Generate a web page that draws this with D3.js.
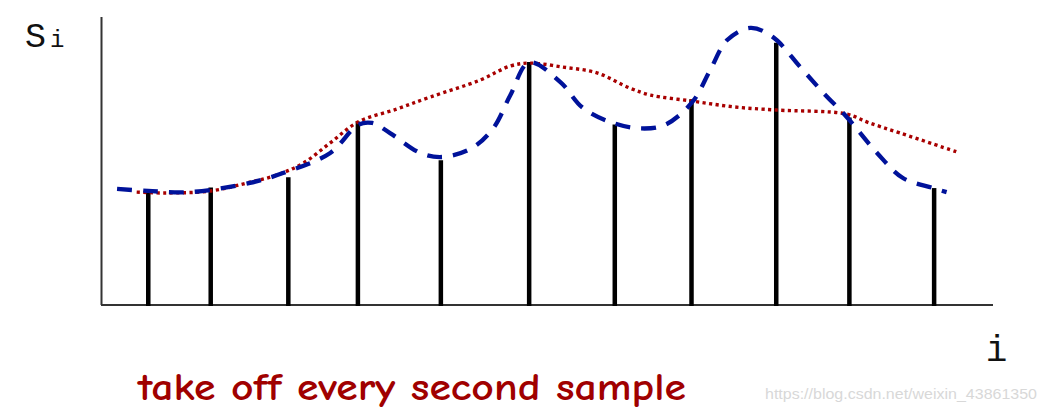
<!DOCTYPE html>
<html>
<head>
<meta charset="utf-8">
<script src="https://cdn.jsdelivr.net/npm/d3@7"></script>
<style>
  html, body { margin: 0; padding: 0; background: #fff; }
  svg { display: block; }
</style>
</head>
<body>
<script>
// ---- data (arbitrary units: position 0..100, amplitude 0..100) ----
const sampleX = [5.3, 12.3, 21.0, 28.8, 38.1, 48.0, 57.6, 66.2, 75.7, 83.9, 93.4];
const sampleY = [39.9, 40.8, 44.4, 63.7, 50.3, 84.4, 62.7, 71.4, 91.1, 65.1, 40.6];

const originalX = [1.8, 5.3, 10.0, 16.7, 20.4, 25.7, 28.8, 30.4, 32.4, 35.8, 38.3, 41.6, 44.0, 45.9, 48.0,
                   51.5, 54.0, 57.4, 60.6, 63.2, 66.3, 68.3, 70.2, 72.8, 75.3, 78.4, 81.0, 83.6, 87.0, 89.9, 93.3, 94.8];
const originalY = [40.3, 39.6, 39.2, 42.4, 45.8, 52.8, 62.5, 63.2, 59.7, 52.8, 51.4, 54.5, 61.5, 72.9, 84.2,
                   77.4, 68.5, 63.2, 61.3, 62.5, 70.5, 81.6, 92.0, 96.2, 93.1, 82.6, 73.6, 65.3, 52.8, 44.1, 40.6, 39.2];

const reducedX = [4.0, 7.2, 12.3, 16.4, 19.7, 22.7, 25.7, 28.8, 33.2, 36.9, 42.5, 45.9, 48.1, 51.8,
                  55.6, 59.3, 61.6, 66.3, 70.9, 75.7, 83.6, 85.9, 89.6, 96.0];
const reducedY = [39.2, 38.9, 39.6, 42.4, 45.1, 49.3, 56.3, 63.5, 68.1, 72.2, 78.1, 83.0, 84.0, 82.6,
                  80.6, 75.3, 72.9, 70.8, 68.8, 67.7, 66.3, 63.5, 59.7, 53.1];

const yLabel = "S";
const ySub = "i";
const xLabel = "i";
const caption = "take off every second sample";
const watermark = "https://blog.csdn.net/weixin_43861350";

// ---- layout ----
const W = 1046, H = 413;
const svg = d3.select("body").append("svg").attr("width", W).attr("height", H);

const x = d3.scaleLinear().domain([0, 100]).range([101, 993]);
const y = d3.scaleLinear().domain([0, 100]).range([305, 17]);

// axes
svg.append("line")
  .attr("x1", x(0) + 0.5).attr("x2", x(0) + 0.5)
  .attr("y1", y(0)).attr("y2", y(100))
  .attr("stroke", "#333").attr("stroke-width", 2);
svg.append("line")
  .attr("x1", x(0)).attr("x2", x(100))
  .attr("y1", y(0)).attr("y2", y(0))
  .attr("stroke", "#333").attr("stroke-width", 2);

// stems
svg.append("g").selectAll("line")
  .data(sampleX.map((v, i) => ({ x: v, y: sampleY[i] })))
  .join("line")
  .attr("x1", d => x(d.x)).attr("x2", d => x(d.x))
  .attr("y1", y(0) + 1).attr("y2", d => y(d.y))
  .attr("stroke", "#000").attr("stroke-width", 4.5);

// curves
const line = d3.line().x(d => x(d[0])).y(d => y(d[1])).curve(d3.curveCatmullRom.alpha(0.5));

svg.append("path")
  .datum(reducedX.map((v, i) => [v, reducedY[i]]))
  .attr("d", line)
  .attr("fill", "none")
  .attr("stroke", "#a80000")
  .attr("stroke-width", 3.4)
  .attr("stroke-dasharray", "3.2,3.4");

svg.append("path")
  .datum(originalX.map((v, i) => [v, originalY[i]]))
  .attr("d", line)
  .attr("fill", "none")
  .attr("stroke", "#00129a")
  .attr("stroke-width", 4.3)
  .attr("stroke-dasharray", "15,11");

// labels
svg.append("text")
  .attr("x", 25).attr("y", 46.5)
  .attr("font-family", "Liberation Mono, monospace")
  .attr("font-size", 35).attr("fill", "#111")
  .text(yLabel);
svg.append("text")
  .attr("x", 50).attr("y", 46.5)
  .attr("font-family", "Liberation Mono, monospace")
  .attr("font-size", 24).attr("fill", "#111")
  .text(ySub);
svg.append("text")
  .attr("x", 996.5).attr("y", 361).attr("text-anchor", "middle")
  .attr("font-family", "Liberation Mono, monospace")
  .attr("font-size", 36).attr("fill", "#111")
  .text(xLabel);

svg.append("text")
  .attr("x", 138).attr("y", 399.5)
  .attr("font-family", "'Comic Sans MS', 'Comic Neue', 'Noto Sans', sans-serif")
  .attr("font-size", 38).attr("font-weight", "bold").attr("fill", "#a00000")
  .attr("textLength", 548).attr("lengthAdjust", "spacingAndGlyphs")
  .text(caption);

svg.append("text")
  .attr("x", 765).attr("y", 399.3)
  .attr("font-family", "Liberation Sans, Arial, sans-serif")
  .attr("font-size", 15).attr("fill", "#d8d8d8")
  .attr("textLength", 272).attr("lengthAdjust", "spacingAndGlyphs")
  .text(watermark);
</script>
</body>
</html>
